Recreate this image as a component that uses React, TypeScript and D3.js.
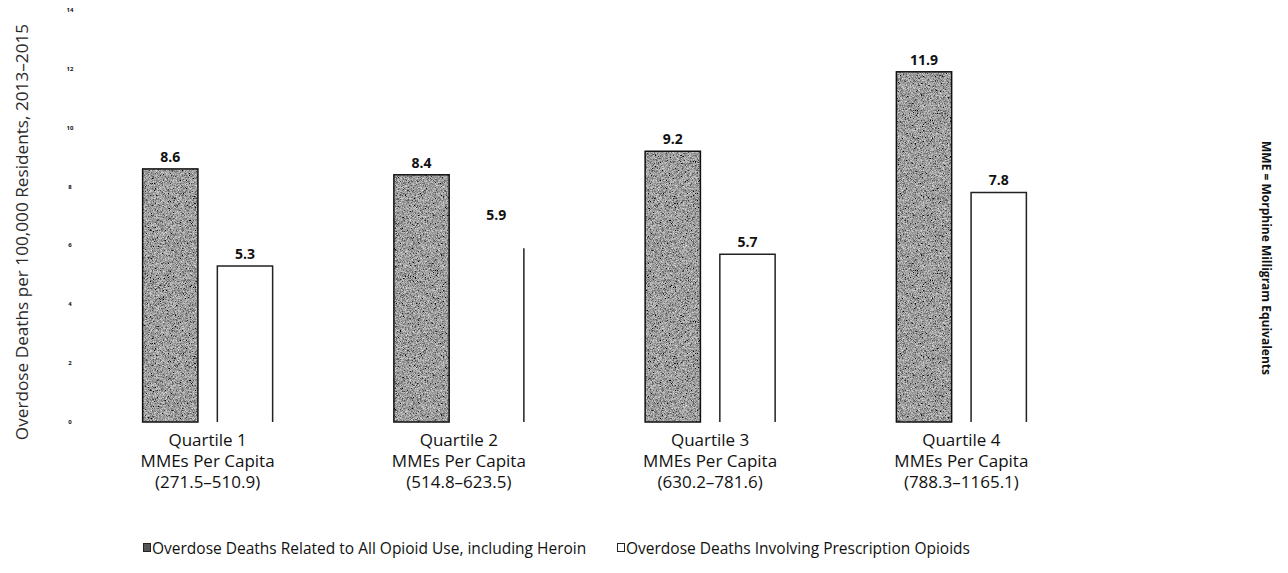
import React from "react";
import * as d3 from "d3";

const categories = ["Quartile 1", "Quartile 2", "Quartile 3", "Quartile 4"];
const categorySub = ["MMEs Per Capita", "MMEs Per Capita", "MMEs Per Capita", "MMEs Per Capita"];
const categoryRange = ["(271.5\u2013510.9)", "(514.8\u2013623.5)", "(630.2\u2013781.6)", "(788.3\u20131165.1)"];
const allOpioid = [8.6, 8.4, 9.2, 11.9];
const prescription = [5.3, 5.9, 5.7, 7.8];
const yTicks = [0, 2, 4, 6, 8, 10, 12, 14];
const seriesNames = [
  "Overdose Deaths Related to All Opioid Use, including Heroin",
  "Overdose Deaths Involving Prescription Opioids",
];
const yTitle = "Overdose Deaths per 100,000 Residents, 2013\u20132015";
const sideNote = "MME = Morphine Milligram Equivalents";

const W = 1288;
const H = 573;

export default function App() {
  const y = d3.scaleLinear().domain([0, 14]).range([422, 10]);
  const x = d3.scaleBand<string>().domain(categories).range([82, 1087]).paddingInner(0);
  const inner = d3.scaleBand<string>().domain(["a", "b"]).range([-65, 65]).paddingInner(0.26).paddingOuter(0);
  const font = "'Open Sans', 'Noto Sans', sans-serif";
  const bw = inner.bandwidth();

  return (
    <svg width={W} height={H} style={{ position: "absolute", left: 0, top: 0, background: "#fff" }}>
      <defs>
        <filter id="grain" x="0" y="0" width="100%" height="100%">
          <feTurbulence type="fractalNoise" baseFrequency="1.6" numOctaves="2" seed="4" result="n" />
          <feColorMatrix in="n" type="saturate" values="0" result="g" />
          <feComponentTransfer in="g" result="c">
            <feFuncR type="linear" slope="1.6" intercept="-0.46" />
            <feFuncG type="linear" slope="1.6" intercept="-0.46" />
            <feFuncB type="linear" slope="1.6" intercept="-0.46" />
            <feFuncA type="linear" slope="0" intercept="1" />
          </feComponentTransfer>
          <feComposite in="c" in2="SourceGraphic" operator="in" />
        </filter>
      </defs>

      {/* y title */}
      <text
        transform={`translate(21,${(y(14) + y(0)) / 2 + 16}) rotate(-90)`}
        textAnchor="middle"
        dominantBaseline="central"
        fontFamily={font}
        fontSize={17.2}
        fill="#2a2a2a"
      >
        {yTitle}
      </text>

      {/* y ticks */}
      {yTicks.map((t) => (
        <text
          key={t}
          x={70}
          y={y(t)}
          textAnchor="middle"
          dominantBaseline="central"
          fontFamily={font}
          fontSize={6}
          fontWeight={700}
          fill="#111"
        >
          {t}
        </text>
      ))}

      {categories.map((c, i) => {
        const cx = (x(c) as number) + x.bandwidth() / 2;
        const ax = cx + (inner("a") as number);
        const bx = cx + (inner("b") as number);
        const ya = y(allOpioid[i]);
        const yb = y(prescription[i]);
        const y0 = y(0);
        const partial = i === 1;
        return (
          <g key={c}>
            <rect x={ax} y={ya} width={bw} height={y0 - ya} fill="#555" filter="url(#grain)" />
            <rect x={ax} y={ya} width={bw} height={y0 - ya} fill="none" stroke="#111" strokeWidth={1.5} />
            <rect x={bx} y={yb} width={bw} height={y0 - yb} fill="#fff" />
            <path
              d={
                partial
                  ? `M${bx + bw},${yb}V${y0}`
                  : `M${bx},${y0}V${yb}H${bx + bw}V${y0}`
              }
              fill="none"
              stroke="#222"
              strokeWidth={1.5}
            />
            <text x={ax + bw / 2} y={ya - 7} textAnchor="middle" fontFamily={font} fontSize={14} fontWeight={700} fill="#111">
              {allOpioid[i].toFixed(1)}
            </text>
            <text x={bx + bw / 2} y={(partial ? yb - 21 : yb) - 7} textAnchor="middle" fontFamily={font} fontSize={14} fontWeight={700} fill="#111">
              {prescription[i].toFixed(1)}
            </text>
            <text textAnchor="middle" fontFamily={font} fontSize={17} fill="#111">
              <tspan x={cx} y={446}>{categories[i]}</tspan>
              <tspan x={cx} y={467}>{categorySub[i]}</tspan>
              <tspan x={cx} y={488}>{categoryRange[i]}</tspan>
            </text>
          </g>
        );
      })}

      {/* legend */}
      <rect x={143.5} y={543.5} width={7} height={8} fill="#555" stroke="#222" strokeWidth={1} />
      <text x={152} y={554} fontFamily={font} fontSize={15.5} fill="#111">
        {seriesNames[0]}
      </text>
      <rect x={617.5} y={543.5} width={7} height={8} fill="#fff" stroke="#222" strokeWidth={1} />
      <text x={626} y={554} fontFamily={font} fontSize={15.5} fill="#111">
        {seriesNames[1]}
      </text>

      {/* side note */}
      <text
        transform={`translate(1266,258) rotate(90)`}
        textAnchor="middle"
        dominantBaseline="central"
        fontFamily={font}
        fontSize={12}
        fontWeight={700}
        fill="#111"
      >
        {sideNote}
      </text>
    </svg>
  );
}
